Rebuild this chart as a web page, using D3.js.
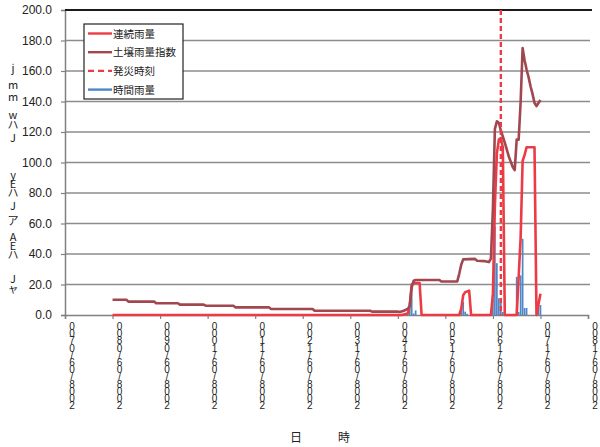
<!DOCTYPE html>
<html>
<head>
<meta charset="utf-8">
<script src="https://cdn.jsdelivr.net/npm/d3@7"></script>
<style>
  body { margin: 0; background: #fff; }
  svg { display: block; }
</style>
</head>
<body>
<svg id="chart" width="600" height="447"></svg>
<script>
// ---- data ----------------------------------------------------------------
// Time axis: hours counted from 2008/06/07 00:00
const startDate = new Date(2008, 5, 7, 0, 0);
const endDate = new Date(2008, 5, 18, 0, 0);

const xTickLabels = [
  "2008/06/0700", "2008/06/0800", "2008/06/0900", "2008/06/1000",
  "2008/06/1100", "2008/06/1200", "2008/06/1300", "2008/06/1400",
  "2008/06/1500", "2008/06/1600", "2008/06/1700", "2008/06/1800"
];
const yTickValues = [0, 20, 40, 60, 80, 100, 120, 140, 160, 180, 200];

const seriesNames = ["連続雨量", "土壌雨量指数", "発災時刻", "時間雨量"];

// 土壌雨量指数
const soilHours = [24, 31, 32, 45, 46, 57, 58, 70, 71, 85, 86, 103, 104, 125, 126, 154, 155, 168,
  169, 171, 173, 174, 175, 176, 177, 189, 190, 198, 199, 200, 201, 207, 208, 212, 214,
  215, 216, 217, 218, 219, 220, 222, 224, 226, 227, 228, 229, 230, 231, 232, 233, 234,
  235, 236, 237, 238, 239, 240];
const soilValues = [10.0, 10.0, 8.8, 8.8, 7.7, 7.7, 6.8, 6.8, 6.1, 6.1, 5.0, 5.0, 3.9, 3.9, 2.8, 2.8, 2.2, 2.2,
  2.0, 2.8, 4.0, 6.0, 18.0, 22.5, 23.0, 23.0, 22.0, 22.0, 27.0, 33.0, 36.5, 36.8, 35.6, 35.3, 34.7,
  37.0, 70.0, 122.0, 127.0, 126.0, 121.0, 113.0, 104.0, 97.0, 95.0, 115.0, 115.0, 140.0, 175.0, 167.0, 161.0, 156.0,
  150.0, 145.0, 139.0, 137.0, 139.0, 141.0];

// 連続雨量
const cumHours = [24, 170, 173, 174, 175, 176, 179, 180, 199, 200, 201, 202, 204, 205,
  215, 216, 217, 218, 219, 220, 221, 222, 228, 229, 230, 231, 232, 233, 237, 238, 240];
const cumValues = [0, 0, 1, 6, 20, 21, 21, 0, 0, 4, 13, 15, 16, 0,
  0, 14, 72, 106, 115, 116, 110, 0, 0, 25, 51, 101, 105, 110, 110, 0, 14];

// 時間雨量
const hourlyHours = [173, 174, 175, 176, 177, 200, 201, 202, 203,
  215, 216, 217, 218, 219, 220, 221, 228, 229, 230, 231, 232, 233, 239, 240];
const hourlyValues = [1, 5, 14, 1, 3, 4.5, 8.7, 2.2, 0.8,
  3.3, 11, 58, 34, 11, 8.7, 2, 25, 2, 26, 50, 4.6, 4.6, 6.5, 6.5];

// 発災時刻
const disasterHour = 220;

// ---- layout --------------------------------------------------------------
const plot = { left: 65, right: 588, top: 10, bottom: 315 };
const RED = "#ec3b45", BROWN = "#a1474f", BLUE = "#4f86c6";
const latin = "'Liberation Sans', Arial, sans-serif";
const cjk = "'Noto Sans CJK JP', sans-serif";

const svg = d3.select("#chart");
const hourToDate = h => d3.timeHour.offset(startDate, h);

const x = d3.scaleTime().domain([startDate, endDate]).range([plot.left, plot.right]);
const y = d3.scaleLinear().domain([0, 200]).range([plot.bottom, plot.top]);

// horizontal grid
svg.append("g")
  .selectAll("line")
  .data(yTickValues.filter(v => v > 0 && v < 200))
  .join("line")
  .attr("x1", plot.left).attr("x2", plot.right + 2)
  .attr("y1", d => y(d)).attr("y2", d => y(d))
  .attr("stroke", "#8c8c8c").attr("stroke-width", 1.4);

// y axis
const yAxis = svg.append("g")
  .attr("transform", `translate(${plot.left},0)`)
  .call(d3.axisLeft(y).tickValues(yTickValues).tickSize(4).tickPadding(9).tickFormat(d3.format(".1f")));
yAxis.select(".domain").attr("stroke", "#808080").attr("stroke-width", 1.5);
yAxis.selectAll(".tick line").attr("stroke", "#808080").attr("stroke-width", 1.2);
yAxis.selectAll(".tick text").attr("font-family", latin).attr("font-size", 12).attr("fill", "#222");

// x axis
const xTickDates = xTickLabels.map((_, i) => d3.timeDay.offset(startDate, i));
const xAxis = svg.append("g")
  .attr("transform", `translate(0,${plot.bottom})`)
  .call(d3.axisBottom(x).tickValues(xTickDates).tickSize(4).tickFormat(""));
xAxis.select(".domain").attr("stroke", "#808080").attr("stroke-width", 1.5);
xAxis.selectAll(".tick line").attr("stroke", "#808080").attr("stroke-width", 1.2);

// stacked tick labels (characters run top to bottom, reversed)
const labelG = svg.append("g");
xTickLabels.forEach((label, i) => {
  const chars = label.split("").reverse();
  const t = labelG.append("text")
    .attr("font-family", latin).attr("font-size", 10).attr("fill", "#222")
    .attr("text-anchor", "middle");
  chars.forEach((c, j) => {
    t.append("tspan")
      .attr("x", x(xTickDates[i]) + 7)
      .attr("y", 330 + j * 7.2)
      .text(c);
  });
});

// top border
svg.append("line")
  .attr("x1", plot.left).attr("x2", plot.right + 4)
  .attr("y1", plot.top).attr("y2", plot.top)
  .attr("stroke", "#1a1a1a").attr("stroke-width", 2.2);

// hourly bars
const barW = 1.7;
svg.append("g")
  .selectAll("rect")
  .data(hourlyHours.map((h, i) => ({ t: hourToDate(h), v: hourlyValues[i] })))
  .join("rect")
  .attr("x", d => x(d.t) - barW / 2)
  .attr("y", d => y(d.v))
  .attr("width", barW)
  .attr("height", d => y(0) - y(d.v))
  .attr("fill", BLUE);

const line = d3.line().x(d => x(d.t)).y(d => y(d.v));

// cumulative rainfall
svg.append("path")
  .datum(cumHours.map((h, i) => ({ t: hourToDate(h), v: cumValues[i] })))
  .attr("d", line)
  .attr("fill", "none").attr("stroke", RED).attr("stroke-width", 2.6)
  .attr("stroke-linejoin", "round");

// soil water index
svg.append("path")
  .datum(soilHours.map((h, i) => ({ t: hourToDate(h), v: soilValues[i] })))
  .attr("d", line)
  .attr("fill", "none").attr("stroke", BROWN).attr("stroke-width", 2.6)
  .attr("stroke-linejoin", "round");

// disaster time marker
const xd = x(hourToDate(disasterHour));
svg.append("line")
  .attr("x1", xd).attr("x2", xd)
  .attr("y1", y(200)).attr("y2", y(0))
  .attr("stroke", RED).attr("stroke-width", 2.4)
  .attr("stroke-dasharray", "5,3");

// legend
const lg = svg.append("g").attr("transform", "translate(84,24)");
lg.append("rect").attr("width", 99).attr("height", 75)
  .attr("fill", "#fff").attr("stroke", "#222").attr("stroke-width", 1.2);
const legendStyles = [
  { color: RED, dash: null },
  { color: BROWN, dash: null },
  { color: RED, dash: "6,4" },
  { color: BLUE, dash: null }
];
seriesNames.forEach((name, i) => {
  const yy = 9.5 + i * 18.7;
  lg.append("line")
    .attr("x1", 4).attr("x2", 28).attr("y1", yy).attr("y2", yy)
    .attr("stroke", legendStyles[i].color).attr("stroke-width", 2.4)
    .attr("stroke-dasharray", legendStyles[i].dash);
  lg.append("text")
    .attr("x", 29).attr("y", yy + 4)
    .attr("font-family", cjk).attr("font-size", 10.5).attr("fill", "#222")
    .text(name);
});

// y axis title (stacked glyphs)
const yTitleChars = ["j", "m", "m", "w", "ハ", "J", "y", "E", "ハ", "J", "ア", "A", "E", "ハ", "J", "ャ"];
const yTitlePos = [72, 89, 101, 119, 129, 142, 179, 188, 197, 210, 225, 241, 250, 259, 283, 293];
const yTitle = svg.append("text")
  .attr("font-family", cjk).attr("font-size", 11).attr("fill", "#222")
  .attr("text-anchor", "middle");
yTitleChars.forEach((c, i) => {
  yTitle.append("tspan").attr("x", 13).attr("y", yTitlePos[i]).text(c);
});

// x axis title
svg.append("text")
  .attr("x", 320).attr("y", 442)
  .attr("text-anchor", "middle")
  .attr("font-family", cjk).attr("font-size", 12).attr("fill", "#222")
  .text("日　　　時");
</script>
</body>
</html>
